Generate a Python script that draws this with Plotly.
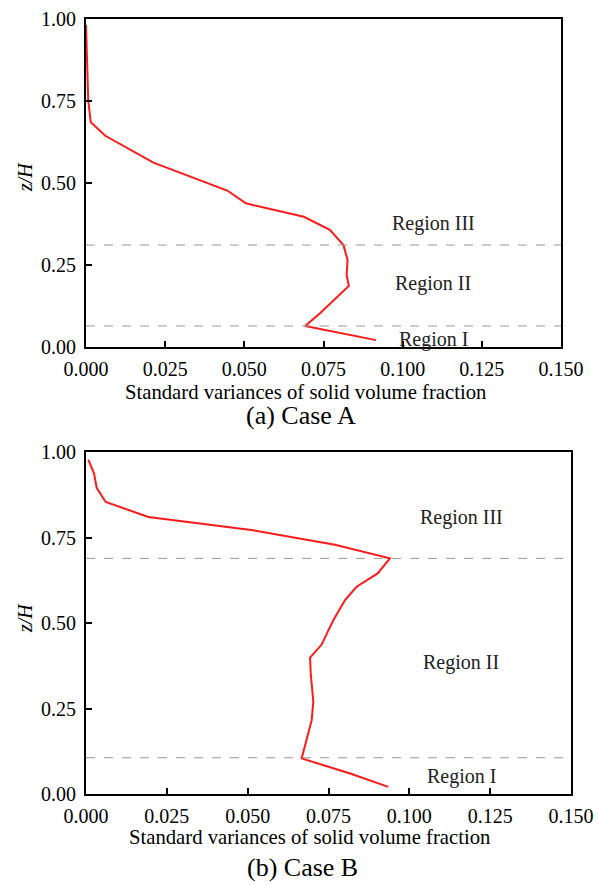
import plotly.graph_objects as go

# ---- Data ----
# Case A
a_x = [0.0000, 0.0004, 0.0007, 0.0015, 0.0061, 0.0213, 0.0446, 0.0505, 0.0688, 0.0770,
       0.0813, 0.0826, 0.0823, 0.0830, 0.0739, 0.0692, 0.0916]
a_z = [0.982, 0.814, 0.753, 0.685, 0.644, 0.562, 0.477, 0.438, 0.397, 0.357,
       0.311, 0.265, 0.220, 0.186, 0.103, 0.064, 0.021]
a_bounds = [0.311, 0.064]
# Case B
b_x = [0.0007, 0.0025, 0.0033, 0.0061, 0.0193, 0.0517, 0.0770, 0.0940, 0.0902, 0.0837,
       0.0801, 0.0765, 0.0750, 0.0729, 0.0693, 0.0695, 0.0703, 0.0698, 0.0667, 0.0817, 0.0935]
b_z = [0.978, 0.937, 0.895, 0.854, 0.810, 0.771, 0.729, 0.689, 0.645, 0.606,
       0.567, 0.508, 0.479, 0.437, 0.399, 0.353, 0.270, 0.216, 0.104, 0.060, 0.021]
b_bounds = [0.689, 0.106]

region_names = ["Region III", "Region II", "Region I"]
a_region_z = [0.378, 0.195, 0.024]
b_region_z = [0.809, 0.384, 0.051]
a_region_x = 0.1096
b_region_x = 0.116

x_ticks = [0.000, 0.025, 0.050, 0.075, 0.100, 0.125, 0.150]
y_ticks = [0.00, 0.25, 0.50, 0.75, 1.00]
x_title = "Standard variances of solid volume fraction"
y_title = "<i>z/H</i>"
captions = ["(a) Case A", "(b) Case B"]

W, H = 598, 885
FONT = "Liberation Serif"

fig = go.Figure()
fig.add_trace(go.Scatter(x=a_x, y=a_z, mode="lines", line=dict(color="#ff1a1a", width=2),
                         xaxis="x", yaxis="y", showlegend=False))
fig.add_trace(go.Scatter(x=b_x, y=b_z, mode="lines", line=dict(color="#ff1a1a", width=2),
                         xaxis="x2", yaxis="y2", showlegend=False))

def px_x(p):
    return p / W

def px_y(p):
    return 1 - p / H

axis_common = dict(
    showline=True, linecolor="black", linewidth=2, mirror=True,
    ticks="inside", ticklen=6, tickwidth=2, tickcolor="black",
    showgrid=False, zeroline=False, automargin=False,
    tickfont=dict(family=FONT, size=20, color="black"),
)

fig.update_layout(
    width=W, height=H,
    margin=dict(l=0, r=0, t=0, b=0),
    paper_bgcolor="white", plot_bgcolor="white",
    xaxis=dict(domain=[px_x(86), px_x(561)], range=[0, 0.15], tickvals=x_ticks,
               tickformat=".3f", anchor="y", ticklabelstandoff=3, **axis_common),
    yaxis=dict(domain=[px_y(347), px_y(19)], range=[0, 1], tickvals=y_ticks,
               tickformat=".2f", anchor="x", ticklabelstandoff=4, **axis_common),
    xaxis2=dict(domain=[px_x(86), px_x(571)], range=[0, 0.15], tickvals=x_ticks,
                tickformat=".3f", anchor="y2", ticklabelstandoff=3, **axis_common),
    yaxis2=dict(domain=[px_y(794), px_y(452)], range=[0, 1], tickvals=y_ticks,
                tickformat=".2f", anchor="x2", ticklabelstandoff=4, **axis_common),
)

# dashed region boundaries
for z in a_bounds:
    fig.add_shape(type="line", xref="x domain", yref="y", x0=0, x1=1, y0=z, y1=z,
                  line=dict(color="#999999", width=1, dash="dash"))
for z in b_bounds:
    fig.add_shape(type="line", xref="x2 domain", yref="y2", x0=0, x1=1, y0=z, y1=z,
                  line=dict(color="#999999", width=1, dash="dash"))

# region labels
for name, z in zip(region_names, a_region_z):
    fig.add_annotation(x=a_region_x, y=z, xref="x", yref="y", text=name, showarrow=False,
                       font=dict(family=FONT, size=20, color="#222222"))
for name, z in zip(region_names, b_region_z):
    fig.add_annotation(x=b_region_x, y=z, xref="x2", yref="y2", text=name, showarrow=False,
                       font=dict(family=FONT, size=20, color="#222222"))

# axis titles and captions
for cx, cy in [(306, 392), (310, 837)]:
    fig.add_annotation(x=px_x(cx), y=px_y(cy), xref="paper", yref="paper", text=x_title,
                       showarrow=False, xanchor="center", yanchor="middle",
                       font=dict(family=FONT, size=20.7, color="black"))
for cx, cy in [(25, 177), (25, 618)]:
    fig.add_annotation(x=px_x(cx), y=px_y(cy), xref="paper", yref="paper", text=y_title,
                       showarrow=False, textangle=-90, xanchor="center", yanchor="middle",
                       font=dict(family=FONT, size=20, color="black"))
for cap, (cx, cy) in zip(captions, [(301, 415), (302, 867)]):
    fig.add_annotation(x=px_x(cx), y=px_y(cy), xref="paper", yref="paper", text=cap,
                       showarrow=False, xanchor="center", yanchor="middle",
                       font=dict(family=FONT, size=26, color="black"))

fig.write_html("out.html")
